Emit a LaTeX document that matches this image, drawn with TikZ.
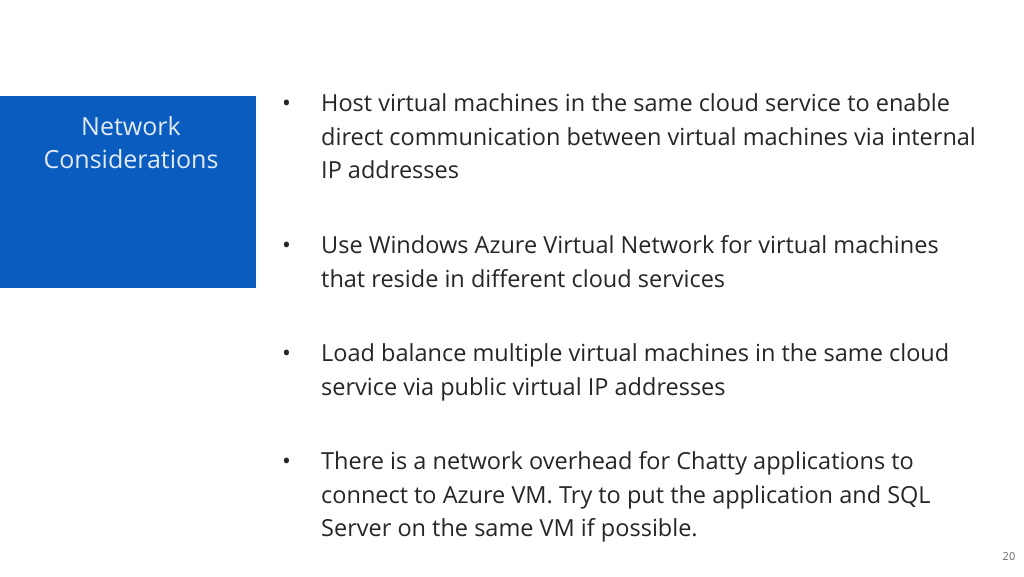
\documentclass[tikz,border=0pt]{standalone}
\usepackage{fontspec}
\setmainfont{Open Sans}
\definecolor{azblue}{HTML}{0B5CBF}
\definecolor{txt}{HTML}{262626}
\begin{document}
\begin{tikzpicture}[x=1pt,y=-1pt,
  item/.style={anchor=north west,inner sep=0pt,align=left,text=txt,font=\fontsize{23.5}{33.5}\selectfont},
  bul/.style={anchor=north west,inner sep=0pt,text=txt,font=\fontsize{23.5}{33.5}\selectfont}]
\useasboundingbox (0,0) rectangle (1024,576);
\fill[white] (0,0) rectangle (1024,576);
\fill[azblue] (0,96) rectangle (256,288);
\node[text=white!88!azblue,align=center,inner sep=0pt,font=\fontsize{25}{33}\selectfont] (title) at (131,143) {Network\\Considerations};
\node[bul] (b1) at (282,88) {\strut•};
\node[item] (t1) at (321,88) {\strut Host virtual machines in the same cloud service to enable\\direct communication between virtual machines via internal\\IP addresses};
\node[bul] (b2) at (282,230) {\strut•};
\node[item] (t2) at (321,230) {\strut Use Windows Azure Virtual Network for virtual machines\\that reside in different cloud services};
\node[bul] (b3) at (282,338) {\strut•};
\node[item] (t3) at (321,338) {\strut Load balance multiple virtual machines in the same cloud\\service via public virtual IP addresses};
\node[bul] (b4) at (282,446) {\strut•};
\node[item] (t4) at (321,446) {\strut There is a network overhead for Chatty applications to\\connect to Azure VM. Try to put the application and SQL\\Server on the same VM if possible.};
\node[text=txt!70,font=\fontsize{11}{13}\selectfont,inner sep=0pt] (pg) at (1009,557) {20};
\end{tikzpicture}
\end{document}
